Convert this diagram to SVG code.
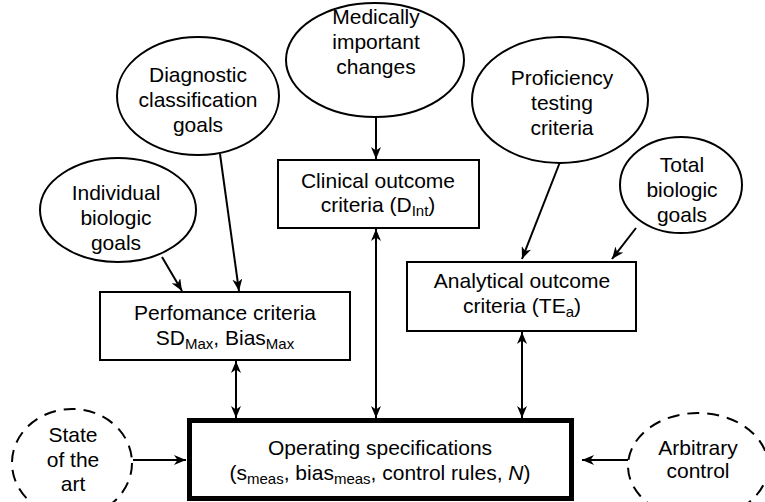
<svg xmlns="http://www.w3.org/2000/svg" width="765" height="502" viewBox="0 0 765 502">
<style>
text{font-family:"Liberation Sans",Arial,sans-serif;font-size:21px;fill:#000;text-anchor:middle}
.sub{font-size:15px}
.n{fill:#fff;stroke:#000;stroke-width:2}
.d{fill:#fff;stroke:#000;stroke-width:2;stroke-dasharray:12 8}
.c{fill:none;stroke:#000;stroke-width:2}
</style>
<defs>
<marker id="ah" viewBox="0 0 12 10" refX="12" refY="5" markerWidth="12" markerHeight="10" markerUnits="userSpaceOnUse" orient="auto-start-reverse">
<path d="M0,0 L12,5 L0,10 L3.5,5 z" fill="#000"/>
</marker>
</defs>
<rect width="765" height="502" fill="#fff"/>
<g id="connectors">
<line class="c" x1="376" y1="117" x2="376" y2="159" marker-end="url(#ah)"/>
<line class="c" x1="376" y1="229" x2="376" y2="418" marker-start="url(#ah)" marker-end="url(#ah)"/>
<line class="c" x1="236" y1="361" x2="236" y2="418" marker-start="url(#ah)" marker-end="url(#ah)"/>
<line class="c" x1="522" y1="332" x2="522" y2="418" marker-start="url(#ah)" marker-end="url(#ah)"/>
<line class="c" x1="220" y1="154" x2="239" y2="291" marker-end="url(#ah)"/>
<line class="c" x1="162" y1="257" x2="182" y2="291" marker-end="url(#ah)"/>
<line class="c" x1="560" y1="162" x2="522" y2="259" marker-end="url(#ah)"/>
<line class="c" x1="636" y1="228" x2="612" y2="259" marker-end="url(#ah)"/>
<line class="c" x1="133" y1="460" x2="186" y2="460" marker-end="url(#ah)"/>
<line class="c" x1="628" y1="460" x2="582" y2="460" marker-end="url(#ah)"/>
</g>
<g id="diagnostic">
<ellipse class="n" cx="198" cy="96" rx="81" ry="59"/>
<text x="198" y="82">Diagnostic</text>
<text x="198" y="107">classification</text>
<text x="198" y="132">goals</text>
</g>
<g id="individual">
<ellipse class="n" cx="118" cy="210" rx="78" ry="52"/>
<text x="116" y="200">Individual</text>
<text x="116" y="225">biologic</text>
<text x="116" y="250">goals</text>
</g>
<g id="medically">
<ellipse class="n" cx="375" cy="60" rx="89" ry="57"/>
<text x="376" y="24">Medically</text>
<text x="376" y="49">important</text>
<text x="376" y="74">changes</text>
</g>
<g id="proficiency">
<ellipse class="n" cx="560" cy="100" rx="88" ry="63"/>
<text x="562" y="85">Proficiency</text>
<text x="562" y="110">testing</text>
<text x="562" y="135">criteria</text>
</g>
<g id="total">
<ellipse class="n" cx="681" cy="185" rx="61" ry="48"/>
<text x="682" y="172">Total</text>
<text x="682" y="197">biologic</text>
<text x="682" y="222">goals</text>
</g>
<g id="clinical">
<rect class="n" x="278" y="160" width="201" height="68"/>
<text x="378" y="188">Clinical outcome</text>
<text x="378" y="212">criteria (D<tspan class="sub" dy="4">Int</tspan><tspan dy="-4">)</tspan></text>
</g>
<g id="performance">
<rect class="n" x="100" y="292" width="250" height="68"/>
<text x="225" y="320">Perfomance criteria</text>
<text x="225" y="345">SD<tspan class="sub" dy="4">Max</tspan><tspan dy="-4">, Bias</tspan><tspan class="sub" dy="4">Max</tspan></text>
</g>
<g id="analytical">
<rect class="n" x="407" y="262" width="229" height="69"/>
<text x="522" y="288">Analytical outcome</text>
<text x="522" y="313">criteria (TE<tspan class="sub" dy="4">a</tspan><tspan dy="-4">)</tspan></text>
</g>
<g id="operating">
<rect x="189.5" y="420.5" width="382" height="78" fill="#fff" stroke="#000" stroke-width="5"/>
<text x="380" y="455">Operating specifications</text>
<text x="380" y="480">(s<tspan class="sub" dy="4">meas</tspan><tspan dy="-4">, bias</tspan><tspan class="sub" dy="4">meas</tspan><tspan dy="-4">, control rules, </tspan><tspan font-style="italic">N</tspan>)</text>
</g>
<g id="state">
<ellipse class="d" cx="72" cy="463" rx="60" ry="54"/>
<text x="73" y="442">State</text>
<text x="73" y="467">of the</text>
<text x="73" y="491">art</text>
</g>
<g id="arbitrary">
<ellipse class="d" cx="698" cy="466" rx="70" ry="53"/>
<text x="698" y="455">Arbitrary</text>
<text x="698" y="478">control</text>
</g>
</svg>
